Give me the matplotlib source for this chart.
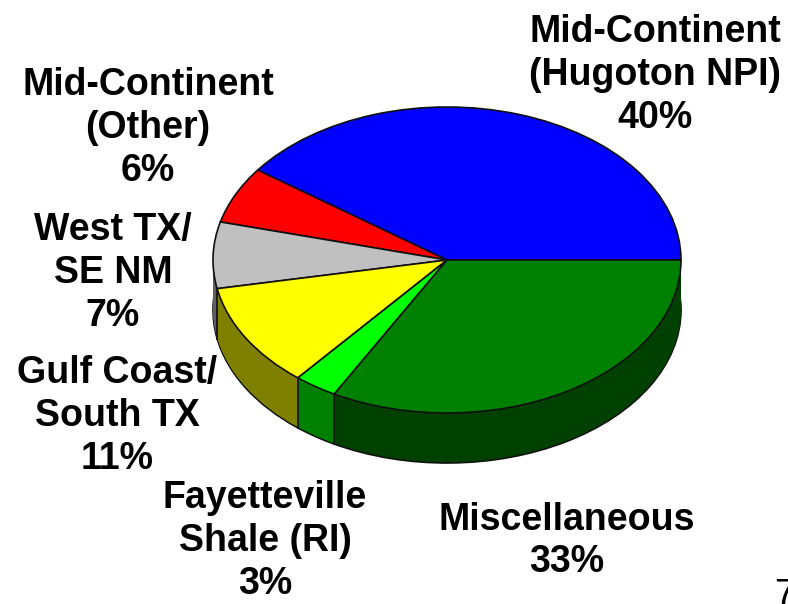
import numpy as np
import matplotlib
matplotlib.use('Agg')
import matplotlib.pyplot as plt

# slices counter-clockwise starting at 3 o'clock
names = ['Mid-Continent\n(Hugoton NPI)\n40%', 'Mid-Continent\n(Other)\n6%', 'West TX/\nSE NM\n7%',
         'Gulf Coast/\nSouth TX\n11%', 'Fayetteville\nShale (RI)\n3%', 'Miscellaneous\n33%']
shares = [40, 6, 7, 11, 3, 33]
top_colors = ['#0000ff', '#ff0000', '#c0c0c0', '#ffff00', '#00ff00', '#008000']
side_colors = ['#000080', '#800000', '#606060', '#808000', '#008000', '#004000']
label_x = [655, 148, 113, 117, 265, 567]
label_y = [75, 128, 273, 416, 541, 541]

plt.rcParams['font.family'] = ['Liberation Sans', 'DejaVu Sans']

W, H = 788, 604
fig = plt.figure(figsize=(W / 100, H / 100), dpi=100)
ax = fig.add_axes([0, 0, 1, 1])

cx, cy, rx, ry, depth = 447, 260, 234, 153, 50

# pie only draws circles, so work in a y unit where the radius is rx and squash through ylim
squash = ry / rx
edge = dict(edgecolor='#101010', linewidth=1.2)

# side wall, stacked copies of the pie going down
ax.pie(shares, colors=side_colors, radius=rx, center=(cx, (H - cy - depth) / squash), wedgeprops=edge)
for d in range(depth - 1, 0, -1):
    ax.pie(shares, colors=side_colors, radius=rx, center=(cx, (H - cy - d) / squash))

# wall separators on the front
ends = np.cumsum(shares)[:-1] / sum(shares) * 2 * np.pi
for a in ends:
    if np.sin(a) < 0:
        x = cx + rx * np.cos(a)
        y = (H - cy) / squash + rx * np.sin(a)
        ax.plot([x, x], [y, y - depth / squash], color='#101010', lw=1.2)

ax.pie(shares, colors=top_colors, radius=rx, center=(cx, (H - cy) / squash), wedgeprops=edge)

ax.set_aspect('auto')
ax.set_xlim(0, W)
ax.set_ylim(0, H / squash)

for name, x, y in zip(names, label_x, label_y):
    ax.text(x, (H - y) / squash, name, ha='center', va='center', fontsize=27,
            fontweight='bold', linespacing=1.25, color='black')

# stray slide number, cut by the right edge in the source image too
ax.text(774, (H - 596) / squash, '7', ha='left', va='center', fontsize=27, color='black')

fig.savefig('out.png', dpi=100)
